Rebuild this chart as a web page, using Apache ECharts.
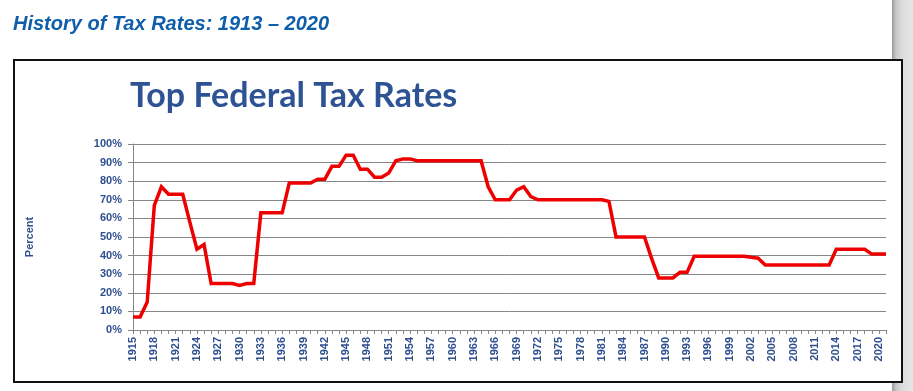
<!DOCTYPE html>
<html>
<head>
<meta charset="utf-8">
<script src="https://cdn.jsdelivr.net/npm/echarts@6/dist/echarts.min.js"></script>
<style>
  html, body { margin:0; padding:0; background:#fff; }
  #wrap { position:relative; width:913px; height:391px; overflow:hidden; }
  #shadow { position:absolute; left:892px; top:0; width:21px; height:391px;
            background:linear-gradient(to right, #9a9a9a 0px, #c8c8c8 4px, #dcdcdc 10px, #e6e6e6 21px); }
  #box { position:absolute; left:13px; top:59px; width:886px; height:320px;
         border:2px solid #111; background:#fff; }
  #chart { position:absolute; left:0; top:0; width:913px; height:391px; }
</style>
</head>
<body>
<div id="wrap">
  <div id="shadow"></div>
  <div id="box"></div>
  <div id="chart"></div>
</div>
<script>
// Chart categories: 1915 .. 2021
const years = [];
for (let y = 1915; y <= 2021; y++) years.push(String(y));

// Top federal tax rate (%) as drawn in the chart
const rates = [
  7, 7, 15, 67, 77, 73, 73, 73, 58, 43.5,          // 1915-1924
  46, 25, 25, 25, 25, 24, 25, 25, 63, 63,          // 1925-1934
  63, 63, 79, 79, 79, 79, 81.1, 81, 88, 88,        // 1935-1944
  94, 94, 86.45, 86.45, 82.13, 82.13, 84.36, 91, 92, 92, // 1945-1954
  91, 91, 91, 91, 91, 91, 91, 91, 91, 91,          // 1955-1964
  77, 70, 70, 70, 75.25, 77, 71.75, 70, 70, 70,    // 1965-1974
  70, 70, 70, 70, 70, 70, 70, 69.13, 50, 50,       // 1975-1984
  50, 50, 50, 38.5, 28, 28, 28, 31, 31, 39.6,      // 1985-1994
  39.6, 39.6, 39.6, 39.6, 39.6, 39.6, 39.6, 39.1, 38.6, 35, // 1995-2004
  35, 35, 35, 35, 35, 35, 35, 35, 35, 43.4,        // 2005-2014
  43.4, 43.4, 43.4, 43.4, 40.8, 40.8, 40.8         // 2015-2021
];

const pageTitle = 'History of Tax Rates: 1913 – 2020';
const chartTitle = 'Top Federal Tax Rates';
const yName = 'Percent';

const labelColor = '#2f4f8f';
const gridColor = '#868686';

const chart = echarts.init(document.getElementById('chart'), null, { renderer: 'canvas' });
chart.setOption({
  backgroundColor: 'transparent',
  animation: false,
  title: [
    { text: pageTitle, left: 13, top: 14, padding: 0,
      textStyle: { fontFamily: 'Liberation Sans, Arial, sans-serif', fontStyle: 'italic',
                   fontWeight: 'bold', fontSize: 20, color: '#0f5eab' } },
    { text: chartTitle, left: 130, top: 79, padding: 0,
      textStyle: { fontFamily: 'Lato, sans-serif', fontWeight: 'bold',
                   fontSize: 34, color: '#2e5394' } }
  ],
  grid: { left: 133, right: 27, top: 144, bottom: 61, containLabel: false },
  xAxis: {
    type: 'category',
    data: years,
    boundaryGap: false,
    axisLine: { lineStyle: { color: gridColor, width: 1 } },
    axisTick: { show: true, interval: 0, length: 4, lineStyle: { color: gridColor } },
    axisLabel: {
      interval: 2, rotate: 90, margin: 7,
      fontFamily: 'Liberation Sans, Arial, sans-serif', fontWeight: 'bold',
      fontSize: 11, color: labelColor
    },
    splitLine: { show: false }
  },
  yAxis: {
    type: 'value', min: 0, max: 100, interval: 10,
    name: yName, nameLocation: 'middle', nameRotate: 90, nameGap: 98,
    nameTextStyle: { fontFamily: 'Liberation Sans, Arial, sans-serif', fontWeight: 'bold',
                     fontSize: 11, color: labelColor },
    axisLine: { show: true, lineStyle: { color: gridColor, width: 1 } },
    axisTick: { show: true, length: 5, lineStyle: { color: gridColor } },
    axisLabel: {
      formatter: '{value}%', margin: 11,
      fontFamily: 'Liberation Sans, Arial, sans-serif', fontWeight: 'bold',
      fontSize: 11, color: labelColor
    },
    splitLine: { show: true, lineStyle: { color: gridColor, width: 1 } }
  },
  series: [{
    type: 'line',
    data: rates,
    showSymbol: false,
    lineStyle: { color: '#ee0000', width: 3.5, join: 'miter' },
    itemStyle: { color: '#ee0000' }
  }]
});
</script>
</body>
</html>
